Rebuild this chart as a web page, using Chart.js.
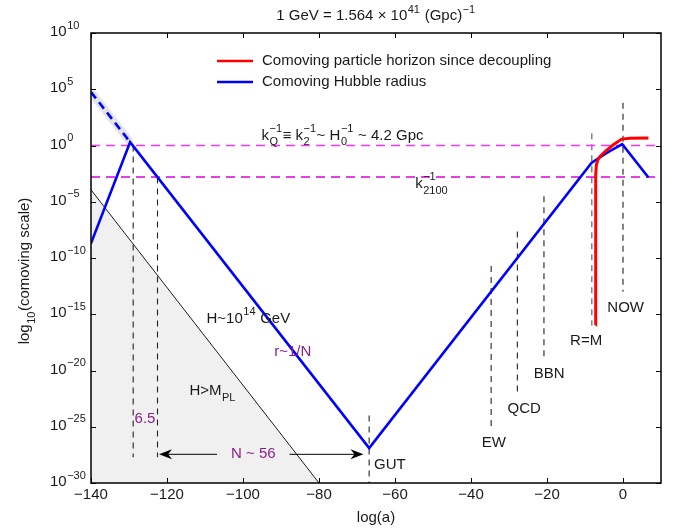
<!DOCTYPE html>
<html>
<head>
<meta charset="utf-8">
<script src="https://cdn.jsdelivr.net/npm/chart.js@4/dist/chart.umd.min.js"></script>
<style>
  html, body { margin: 0; padding: 0; background: #fff; }
  #wrap { width: 675px; height: 529px; }
</style>
</head>
<body>
<div id="wrap"><canvas id="c" width="675" height="529"></canvas></div>
<script>
// Axis ticks
const xTicks = [-140, -120, -100, -80, -60, -40, -20, 0];
const yTicks = [10, 5, 0, -5, -10, -15, -20, -25, -30];

// Comoving Hubble radius (log10 of comoving scale vs log a)
const hubbleX = [-140, -129.7, -66.8, -8.3, -4.5, -0.2, 6.7];
const hubbleY = [-8.7, 0.3, -26.9, -1.55, -0.7, 0.12, -2.85];

// Extrapolated pre-inflation branch (dashed)
const inflationX = [-140, -129.7];
const inflationY = [4.75, 0.3];

// Comoving particle horizon since decoupling
const horizonX = [-7.2, -7.2, -7.17, -7.0, -6.6, -6.05, -4.5, -2.55, -0.34, 1.8, 6.7];
const horizonY = [-15.95, -4.8, -2.6, -1.72, -1.27, -0.98, -0.47, 0.06, 0.57, 0.64, 0.66];

// H > M_PL boundary
const planckX = [-140, -80];
const planckY = [-3.94, -30];

// Horizontal reference scales: k_Q^-1 and k_2100^-1
const scaleLevels = [0, -2.8];

// Epoch markers: x position, top and bottom of dashed marker
const eventNames = ['', '', 'GUT', 'EW', 'QCD', 'BBN', 'R=M', 'NOW'];
const eventX = [-128.9, -122.5, -66.8, -34.7, -27.8, -20.8, -8.2, 0];
const eventTop = [0, -2.85, -24, -10.7, -7.65, -4.5, 1.1, 3.8];
const eventBottom = [-27.7, -27.7, -30, -25, -22, -19, -16, -13];

// N ~ 56 e-folds arrow
const efoldArrow = [-122.1, -68.3];
const efoldLevel = -27.45;

const FONT = '"Liberation Sans", Arial, Helvetica, sans-serif';
const FS = 15;
const PURPLE = '#8b1f8b';
const TEXT = '#1a1a1a';

function pts(xs, ys) { return xs.map((x, i) => ({ x: x, y: ys[i] })); }

const datasets = [
  { data: pts(horizonX, horizonY), borderColor: '#ff0000', borderWidth: 3, order: 0 },
  { data: pts(hubbleX, hubbleY), borderColor: '#0000ff', borderWidth: 2.6, order: 1 },
  { data: pts(inflationX, inflationY), borderColor: '#0000ff', borderWidth: 2.6, borderDash: [8, 5], order: 2 },
  { data: pts(inflationX, inflationY), borderColor: '#e4e4e4', borderWidth: 8, order: 3 },
  { data: pts([-140, 10], [scaleLevels[0], scaleLevels[0]]), borderColor: '#ff33ff', borderWidth: 1.7, borderDash: [9, 6], order: 4 },
  { data: pts([-140, 10], [scaleLevels[1], scaleLevels[1]]), borderColor: '#dd00dd', borderWidth: 1.4, borderDash: [9, 6], order: 4 },
  { data: pts(planckX, planckY), borderColor: '#000', borderWidth: 0.9, backgroundColor: '#f0f0f0', fill: 'start', order: 9 }
];
eventX.forEach((x, i) => {
  datasets.push({
    data: pts([x, x], [eventTop[i], eventBottom[i]]),
    borderColor: (i === 6) ? '#555' : '#222', borderWidth: 1.1, borderDash: [6, 5], order: 5
  });
});
datasets.forEach(d => { d.showLine = true; d.pointRadius = 0; d.pointHoverRadius = 0; if (d.fill === undefined) d.fill = false; });

// rich text: parts are {t} plain or {sup, sub} scripts
function partWidth(ctx, p, size) {
  if (p.t !== undefined) { ctx.font = size + 'px ' + FONT; return ctx.measureText(p.t).width; }
  ctx.font = Math.round(size * 0.72) + 'px ' + FONT;
  const a = p.sup ? ctx.measureText(p.sup).width : 0;
  const b = p.sub ? ctx.measureText(p.sub).width : 0;
  return Math.max(a, b) + 1;
}
function richWidth(ctx, parts, size) { return parts.reduce((s, p) => s + partWidth(ctx, p, size), 0); }
function drawRich(ctx, parts, x, y, align, color, size) {
  size = size || FS;
  const w = richWidth(ctx, parts, size);
  let cx = align === 'center' ? x - w / 2 : (align === 'right' ? x - w : x);
  ctx.fillStyle = color || TEXT;
  ctx.textBaseline = 'middle';
  ctx.textAlign = 'left';
  parts.forEach(p => {
    const pw = partWidth(ctx, p, size);
    if (p.t !== undefined) {
      ctx.font = size + 'px ' + FONT;
      ctx.fillText(p.t, cx, y);
    } else {
      ctx.font = Math.round(size * 0.72) + 'px ' + FONT;
      if (p.sup) ctx.fillText(p.sup, cx + 0.5, y - size * 0.42);
      if (p.sub) ctx.fillText(p.sub, cx + 0.5, y + size * 0.45);
    }
    cx += pw;
  });
}

function arrowHead(ctx, tx, ty, dir) {
  ctx.beginPath();
  ctx.moveTo(tx, ty);
  ctx.lineTo(tx - dir * 13, ty - 5);
  ctx.lineTo(tx - dir * 9, ty);
  ctx.lineTo(tx - dir * 13, ty + 5);
  ctx.closePath();
  ctx.fill();
}

const decor = {
  id: 'decor',
  afterDraw(chart) {
    const ctx = chart.ctx;
    const xs = chart.scales.x, ys = chart.scales.y;
    const a = chart.chartArea;
    const X = v => xs.getPixelForValue(v), Y = v => ys.getPixelForValue(v);
    ctx.save();

    // frame and inward ticks
    ctx.strokeStyle = '#000';
    ctx.lineWidth = 1.5;
    ctx.strokeRect(a.left, a.top, a.right - a.left, a.bottom - a.top);
    ctx.lineWidth = 1;
    ctx.beginPath();
    xTicks.forEach(v => {
      const px = Math.round(X(v)) + 0.5;
      ctx.moveTo(px, a.bottom); ctx.lineTo(px, a.bottom - 5);
      ctx.moveTo(px, a.top); ctx.lineTo(px, a.top + 5);
    });
    yTicks.forEach(v => {
      const py = Math.round(Y(v)) + 0.5;
      ctx.moveTo(a.left, py); ctx.lineTo(a.left + 5, py);
      ctx.moveTo(a.right, py); ctx.lineTo(a.right - 5, py);
    });
    ctx.stroke();

    // tick labels
    ctx.fillStyle = TEXT;
    ctx.font = FS + 'px ' + FONT;
    ctx.textAlign = 'center';
    ctx.textBaseline = 'middle';
    xTicks.forEach(v => {
      ctx.fillText(v < 0 ? '\u2212' + Math.abs(v) : String(v), X(v), a.bottom + 12);
    });
    yTicks.forEach(v => {
      const e = v < 0 ? '\u2212' + Math.abs(v) : String(v);
      drawRich(ctx, [{ t: '10' }, { sup: e }], 50, Y(v) - 1, 'left', TEXT);
    });

    // axis titles and heading
    drawRich(ctx, [{ t: 'log(a)' }], (a.left + a.right) / 2, 518, 'center', TEXT);
    ctx.save();
    ctx.translate(25, 271);
    ctx.rotate(-Math.PI / 2);
    drawRich(ctx, [{ t: 'log' }, { sub: '10' }, { t: '(comoving scale)' }], 0, 0, 'center', TEXT);
    ctx.restore();
    drawRich(ctx, [{ t: '1 GeV = 1.564 \u00d7 10' }, { sup: '41' }, { t: ' (Gpc)' }, { sup: '\u22121' }],
      (a.left + a.right) / 2, 16, 'center', TEXT);

    // legend
    const legend = [['#ff0000', 'Comoving particle horizon since decoupling'], ['#0000ff', 'Comoving Hubble radius']];
    legend.forEach((l, i) => {
      const ly = 61 + i * 21;
      ctx.strokeStyle = l[0];
      ctx.lineWidth = 2.6;
      ctx.beginPath(); ctx.moveTo(217, ly); ctx.lineTo(253, ly); ctx.stroke();
      drawRich(ctx, [{ t: l[1] }], 262, ly, 'left', TEXT);
    });

    // scale labels
    drawRich(ctx, [{ t: 'k' }, { sup: '\u22121', sub: 'Q' }, { t: '\u2261 k' }, { sup: '\u22121', sub: '2' },
      { t: '~ H' }, { sup: '\u22121', sub: '0' }, { t: ' ~ 4.2 Gpc' }], X(-95.1), Y(0.9), 'left', TEXT);
    drawRich(ctx, [{ t: 'k' }, { sup: '\u22121', sub: '2100' }], X(-54.7), Y(-3.4), 'left', TEXT);

    // epoch labels
    const epochPos = { 'GUT': [-65.5, -28.4, 'left'], 'EW': [-34.0, -26.4, 'center'], 'QCD': [-26.0, -23.4, 'center'],
      'BBN': [-19.4, -20.3, 'center'], 'R=M': [-9.7, -17.4, 'center'], 'NOW': [0.7, -14.4, 'center'] };
    eventNames.forEach(n => {
      if (!n) return;
      const p = epochPos[n];
      drawRich(ctx, [{ t: n }], X(p[0]), Y(p[1]), p[2], TEXT);
    });

    // region annotations
    drawRich(ctx, [{ t: 'H~10' }, { sup: '14' }, { t: ' GeV' }], X(-109.6), Y(-15.4), 'left', TEXT);
    drawRich(ctx, [{ t: 'H>M' }, { sub: 'PL' }], X(-114.1), Y(-21.8), 'left', TEXT);
    drawRich(ctx, [{ t: 'r~1/N' }], X(-91.8), Y(-18.3), 'left', PURPLE);
    drawRich(ctx, [{ t: '6.5' }], X(-125.8), Y(-24.3), 'center', PURPLE);

    // e-fold arrow with label
    const ay = Y(efoldLevel);
    const x0 = X(efoldArrow[0]), x1 = X(efoldArrow[1]);
    const lx = X(-97.3);
    const lw = richWidth(ctx, [{ t: 'N ~ 56' }], FS);
    ctx.strokeStyle = '#000';
    ctx.fillStyle = '#000';
    ctx.lineWidth = 1;
    ctx.beginPath();
    ctx.moveTo(x0 + 8, ay); ctx.lineTo(lx - lw / 2 - 14, ay);
    ctx.moveTo(lx + lw / 2 + 14, ay); ctx.lineTo(x1 - 8, ay);
    ctx.stroke();
    arrowHead(ctx, x0, ay, -1);
    arrowHead(ctx, x1, ay, 1);
    drawRich(ctx, [{ t: 'N ~ 56' }], lx, ay, 'center', PURPLE);

    ctx.restore();
  }
};

new Chart(document.getElementById('c'), {
  type: 'scatter',
  data: { datasets: datasets },
  options: {
    responsive: false,
    devicePixelRatio: 1,
    animation: false,
    layout: { padding: { left: 0, top: 33, right: 14, bottom: 0 } },
    plugins: { legend: { display: false }, tooltip: { enabled: false } },
    elements: { line: { tension: 0 } },
    scales: {
      x: {
        type: 'linear', min: -140, max: 10,
        grid: { display: false }, border: { display: false },
        ticks: { display: false },
        afterFit(s) { s.height = 46; }
      },
      y: {
        type: 'linear', min: -30, max: 10,
        grid: { display: false }, border: { display: false },
        ticks: { display: false },
        afterFit(s) { s.width = 91; }
      }
    }
  },
  plugins: [decor]
});
</script>
</body>
</html>
